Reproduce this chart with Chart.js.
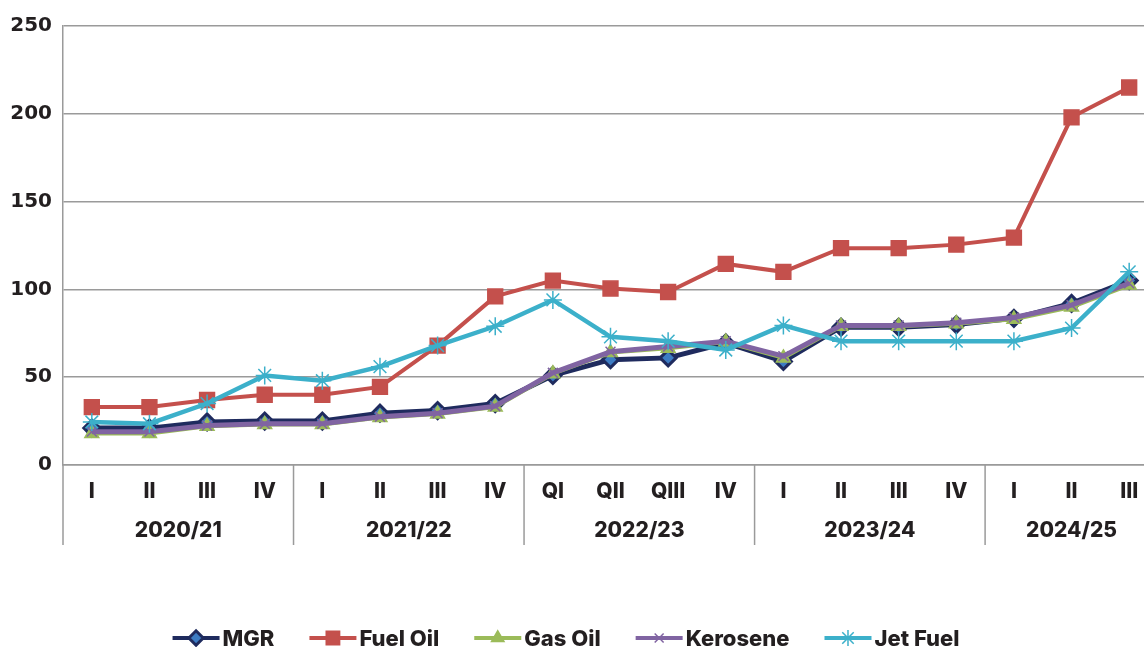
<!DOCTYPE html>
<html>
<head>
<meta charset="utf-8">
<script src="https://cdn.jsdelivr.net/npm/chart.js@4.4.1/dist/chart.umd.min.js"></script>
<style>
    body { margin: 0; background: #ffffff; }
    #wrap { width: 1144px; height: 647px; overflow: hidden; position: relative; }
    canvas { display: block; }
</style>
</head>
<body>
<div id="wrap">
    <canvas id="priceChart" width="1170" height="647" style="width:1170px;height:647px"></canvas>
</div>
<script>
// Quarter labels and their financial-year groups
const quarters = ['I', 'II', 'III', 'IV', 'I', 'II', 'III', 'IV', 'QI', 'QII', 'QIII', 'IV', 'I', 'II', 'III', 'IV', 'I', 'II', 'III'];
const yearGroups = ['2020/21', '2021/22', '2022/23', '2023/24', '2024/25'];
const yearGroupSizes = [4, 4, 4, 4, 3];
const yTicks = [0, 50, 100, 150, 200, 250];

// Series values
const mgr = [21, 21, 24.5, 25, 25, 29.5, 31, 35, 51, 60, 61, 69.5, 59, 78.5, 78.5, 80, 83.5, 92, 105];
const fuelOil = [33, 33, 37, 40, 40, 44.5, 68, 96, 105, 100.5, 98.5, 114.5, 110, 123.5, 123.5, 125.5, 129.5, 198, 215];
const gasOil = [18, 18, 22, 23, 23, 27, 29, 33, 52, 64, 66.5, 70, 61, 79, 79, 80.5, 83, 90, 102.5];
const kerosene = [19, 19, 22.5, 23.5, 23.5, 27.5, 29.5, 33.5, 52.5, 64.5, 67.5, 70.5, 62, 79.5, 79.5, 81, 84, 91, 103.5];
const jetFuel = [24.5, 23.5, 35, 51, 48, 56, 68, 79, 94, 73, 70.5, 65.5, 79.5, 70.5, 70.5, 70.5, 70.5, 78, 110];

const textColor = '#231f20';
const gridColor = '#9a9a9a';
const labelFont = 'Inter, "Open Sans", sans-serif';

// Year group labels and separators under the quarter ticks
const yearGroupPlugin = {
    id: 'yearGroups',
    afterDraw(chart) {
        const ctx = chart.ctx;
        const x = chart.scales.x;
        const bottom = chart.chartArea.bottom;
        const half = (x.getPixelForValue(1) - x.getPixelForValue(0)) / 2;
        ctx.save();
        ctx.strokeStyle = gridColor;
        ctx.lineWidth = 1.5;
        ctx.fillStyle = textColor;
        ctx.font = '800 21px ' + labelFont;
        ctx.textAlign = 'center';
        ctx.textBaseline = 'middle';
        let start = 0;
        yearGroups.forEach((label, i) => {
            const left = x.getPixelForValue(start) - half;
            const right = x.getPixelForValue(start + yearGroupSizes[i] - 1) + half;
            ctx.beginPath();
            ctx.moveTo(left, bottom);
            ctx.lineTo(left, bottom + 80);
            ctx.stroke();
            ctx.fillText(label, (left + right) / 2, bottom + 66);
            start += yearGroupSizes[i];
        });
        ctx.restore();
    }
};

// Legend with a line segment and marker for each series
const lineLegendPlugin = {
    id: 'lineLegend',
    afterDraw(chart) {
        const ctx = chart.ctx;
        const y = 638;
        const lineLen = 47;
        const textGap = 3;
        const itemGap = 35;
        ctx.save();
        ctx.font = '800 22px ' + labelFont;
        const sets = chart.data.datasets;
        const widths = sets.map(ds => lineLen + textGap + ctx.measureText(ds.label).width);
        const total = widths.reduce((a, b) => a + b, 0) + itemGap * (sets.length - 1);
        let cx = 566 - total / 2;
        sets.forEach((ds, i) => {
            ctx.strokeStyle = ds.borderColor;
            ctx.lineWidth = 4;
            ctx.beginPath();
            ctx.moveTo(cx, y);
            ctx.lineTo(cx + lineLen, y);
            ctx.stroke();
            ctx.fillStyle = ds.pointBackgroundColor;
            ctx.strokeStyle = ds.pointBorderColor;
            ctx.lineWidth = ds.pointBorderWidth;
            Chart.helpers.drawPoint(ctx, {
                pointStyle: ds.pointStyle,
                radius: ds.pointRadius * 0.9,
                rotation: 0,
                borderWidth: ds.pointBorderWidth
            }, cx + lineLen / 2, y);
            ctx.fillStyle = textColor;
            ctx.textAlign = 'left';
            ctx.textBaseline = 'middle';
            ctx.fillText(ds.label, cx + lineLen + textGap, y + 1);
            cx += widths[i] + itemGap;
        });
        ctx.restore();
    }
};

function series(label, data, color, style, radius, fill, order, width) {
    return {
        label: label,
        data: data,
        borderColor: color,
        backgroundColor: color,
        borderWidth: width,
        tension: 0,
        pointStyle: style,
        pointRadius: radius,
        pointHoverRadius: radius,
        pointBackgroundColor: fill,
        pointBorderColor: color,
        pointBorderWidth: style === 'rectRot' ? 3 : 1.5,
        order: order
    };
}

const ctx = document.getElementById('priceChart').getContext('2d');
new Chart(ctx, {
    type: 'line',
    data: {
        labels: quarters,
        datasets: [
            series('MGR', mgr, '#1f2b5e', 'rectRot', 8, '#3d7cc4', 5, 5),
            series('Fuel Oil', fuelOil, '#c4504c', 'rect', 10.5, '#c4504c', 4, 4),
            series('Gas Oil', gasOil, '#9bbb59', 'triangle', 8, '#9bbb59', 3, 4),
            series('Kerosene', kerosene, '#8064a2', 'crossRot', 7, '#8064a2', 2, 5),
            series('Jet Fuel', jetFuel, '#3cb0ca', 'star', 9, '#3cb0ca', 1, 4.5)
        ]
    },
    options: {
        responsive: false,
        animation: false,
        layout: { padding: { top: 26, right: 10, left: 0, bottom: 0 } },
        plugins: {
            legend: { display: false },
            tooltip: { enabled: false }
        },
        scales: {
            x: {
                offset: true,
                grid: { display: false, drawTicks: false },
                border: { display: true, color: gridColor, width: 1.5 },
                ticks: {
                    color: textColor,
                    padding: 14,
                    maxRotation: 0,
                    autoSkip: false,
                    font: { family: labelFont, size: 21, weight: '800' }
                },
                afterFit(scale) { scale.height = 182; }
            },
            y: {
                min: 0,
                max: 250,
                afterBuildTicks(scale) { scale.ticks = yTicks.map(v => ({ value: v })); },
                grid: { color: gridColor, lineWidth: 1.5, drawTicks: false },
                border: { display: true, color: gridColor, width: 1.5 },
                ticks: {
                    color: textColor,
                    padding: 11,
                    font: { family: '"DejaVu Sans", sans-serif', size: 20, weight: 'bold' }
                },
                afterFit(scale) { scale.width = 63; }
            }
        }
    },
    plugins: [yearGroupPlugin, lineLegendPlugin]
});
</script>
</body>
</html>
